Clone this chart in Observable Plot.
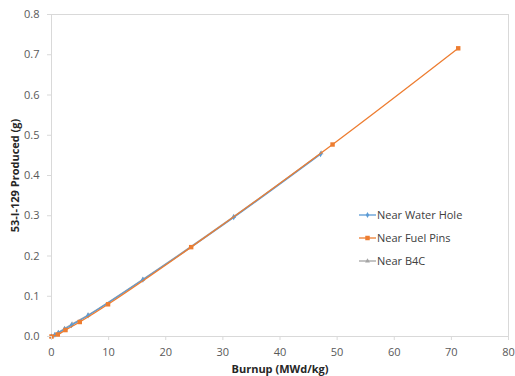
<!DOCTYPE html>
<html>
<head>
<meta charset="utf-8">
<script src="https://cdn.jsdelivr.net/npm/d3@7"></script>
<script src="https://cdn.jsdelivr.net/npm/@observablehq/plot@0.6"></script>
<style>
  html, body { margin: 0; padding: 0; background: #fff; }
  #wrap { position: relative; width: 515px; height: 376px; font-family: "Open Sans", sans-serif; }
  #wrap svg text { font-family: "Open Sans", sans-serif; }
  g[aria-label="x-axis label"] text, g[aria-label="y-axis label"] text { font-weight: bold; fill: #262626; }
  #legend { position: absolute; left: 359px; top: 203px; font-size: 11px; color: #404040; }
  #legend .row { display: flex; align-items: center; height: 23px; }
  #legend svg { margin-right: 1px; }
</style>
</head>
<body>
<div id="wrap"></div>
<script>
// Burnup (MWd/kg) and produced I-129 mass (g) for three positions
const waterHoleBurnup = [0, 0.6, 1.2, 2.3, 3.5, 6.4, 16.0, 31.9, 47.1];
const waterHoleMass   = [0, 0.004, 0.009, 0.018, 0.028, 0.052, 0.141, 0.296, 0.453];
const fuelPinsBurnup  = [0, 1.1, 2.45, 4.95, 9.9, 24.45, 49.2, 71.2];
const fuelPinsMass    = [0, 0.005, 0.016, 0.036, 0.080, 0.222, 0.477, 0.716];
const b4cBurnup       = [0, 0.6, 1.2, 2.3, 3.6, 6.4, 16.0, 31.9, 47.2];
const b4cMass         = [0, 0.005, 0.010, 0.020, 0.031, 0.053, 0.142, 0.298, 0.456];

const seriesNames   = ["Near Water Hole", "Near Fuel Pins", "Near B4C"];
const seriesColors  = ["#5B9BD5", "#ED7D31", "#A5A5A5"];
const seriesSymbols = ["diamond", "square", "triangle"];
const xTicks = [0, 10, 20, 30, 40, 50, 60, 70, 80];
const yTicks = [0, 0.1, 0.2, 0.3, 0.4, 0.5, 0.6, 0.7, 0.8];

const toRows = (xs, ys) => xs.map((x, i) => ({x, y: ys[i]}));
const series = [
  toRows(waterHoleBurnup, waterHoleMass),
  toRows(fuelPinsBurnup, fuelPinsMass),
  toRows(b4cBurnup, b4cMass)
];
const markerR = [1.8, 2.5, 1.8];
const drawOrder = [2, 0, 1];

const marks = [Plot.frame({stroke: "#d9d9d9"})];
drawOrder.forEach(i => {
  const rows = series[i];
  marks.push(Plot.line(rows, {x: "x", y: "y", stroke: seriesColors[i], strokeWidth: 1.3, curve: "catmull-rom"}));
  marks.push(Plot.dot(rows, {x: "x", y: "y", fill: seriesColors[i], symbol: seriesSymbols[i], r: markerR[i]}));
});
marks.push(Plot.axisX({ticks: xTicks, tickSize: 4, tickPadding: 8, stroke: "#d9d9d9", color: "#595959", fontSize: 11,
  label: "Burnup (MWd/kg)", labelAnchor: "center", labelArrow: "none", labelOffset: 36}));
marks.push(Plot.axisY({ticks: yTicks, tickSize: 4, tickPadding: 8, tickFormat: d3.format(".1f"), stroke: "#d9d9d9", color: "#595959", fontSize: 11,
  label: "53-I-129 Produced (g)", labelAnchor: "center", labelArrow: "none", labelOffset: 40}));

const chart = Plot.plot({
  width: 515, height: 376,
  marginLeft: 51, marginRight: 7, marginTop: 14, marginBottom: 40,
  x: {domain: [0, 80]},
  y: {domain: [0, 0.8]},
  style: {fontSize: "11px", background: "#fff"},
  marks
});
const wrap = document.getElementById("wrap");
wrap.appendChild(chart);

// Legend
const legend = document.createElement("div");
legend.id = "legend";
seriesNames.forEach((name, i) => {
  const row = document.createElement("div");
  row.className = "row";
  const sym = d3.symbol(i === 0 ? d3.symbolDiamond : i === 1 ? d3.symbolSquare : d3.symbolTriangle, i === 1 ? 20 : 10)();
  row.innerHTML = `<svg width="17" height="10"><line x1="0" x2="17" y1="5" y2="5" stroke="${seriesColors[i]}" stroke-width="1.3"/>` +
    `<path d="${sym}" transform="translate(8.5,5)" fill="${seriesColors[i]}"/></svg><span>${name}</span>`;
  legend.appendChild(row);
});
wrap.appendChild(legend);
</script>
</body>
</html>
